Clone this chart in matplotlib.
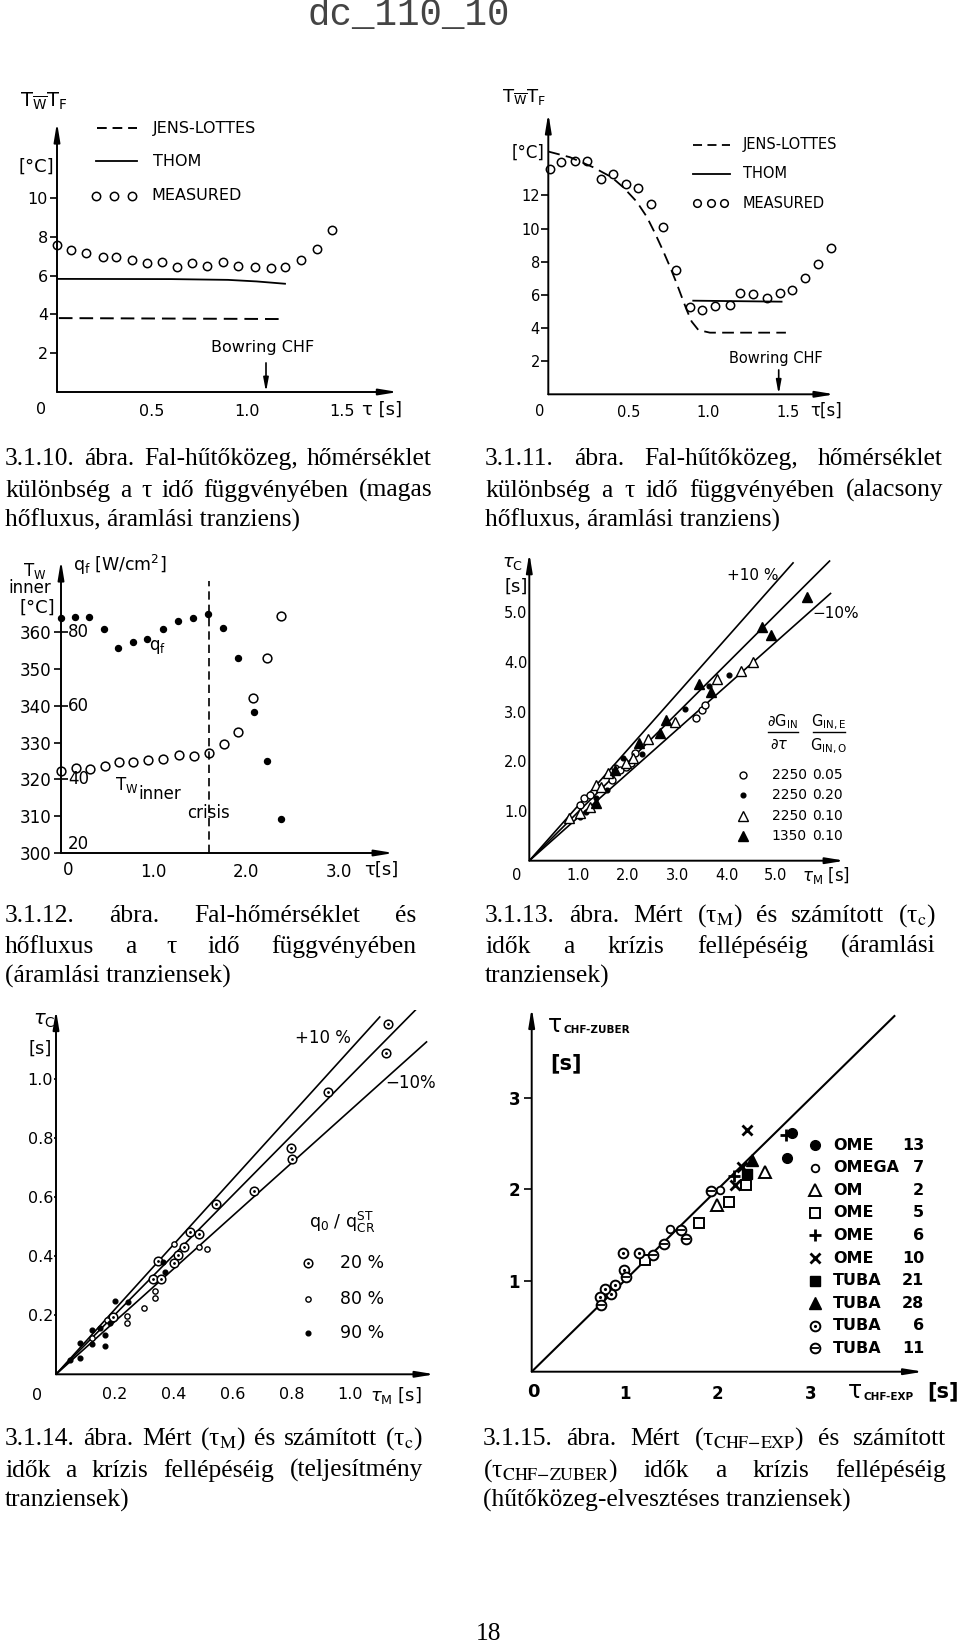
import numpy as np
import matplotlib
matplotlib.use("Agg")
import matplotlib.pyplot as plt

W, H = 960, 1644
SANS = "DejaVu Sans"
SERIF = "Liberation Serif"
MONO = "Liberation Mono"
plt.rcParams["font.family"] = SANS

# 3.1.10 - high heat flux, flow transient
tau_10 = [0.00, 0.075, 0.154, 0.243, 0.313, 0.396, 0.475, 0.555, 0.632, 0.713,
          0.792, 0.874, 0.953, 1.040, 1.124, 1.200, 1.285, 1.371, 1.447]
meas_10 = [7.56, 7.34, 7.17, 6.94, 6.98, 6.80, 6.67, 6.70, 6.46, 6.65,
           6.48, 6.68, 6.49, 6.44, 6.37, 6.44, 6.82, 7.39, 8.35]
thom_tau_10 = [0.0, 0.6, 0.9, 1.05, 1.2]
thom_10 = [5.83, 5.82, 5.78, 5.70, 5.58]
jens_tau_10 = [0.01, 1.2]
jens_10 = [3.81, 3.76]
bowring_10 = 1.10

# 3.1.11 - low heat flux, flow transient
tau_11 = [0.010, 0.081, 0.167, 0.244, 0.327, 0.406, 0.488, 0.563, 0.642, 0.719, 0.800, 0.883,
          0.963, 1.042, 1.133, 1.198, 1.281, 1.367, 1.446, 1.525, 1.604, 1.683, 1.769]
meas_11 = [13.58, 14.00, 14.10, 14.10, 13.00, 13.30, 12.72, 12.47, 11.46, 10.12, 7.51, 5.27,
           5.09, 5.35, 5.39, 6.11, 6.05, 5.81, 6.10, 6.30, 7.04, 7.85, 8.81]
jens_tau_11 = [0.0, 0.135, 0.281, 0.396, 0.469, 0.552, 0.615, 0.667, 0.715, 0.760, 0.802,
               0.833, 0.865, 0.896, 0.938, 1.010, 1.485]
jens_11 = [14.65, 14.31, 13.70, 13.10, 12.49, 11.63, 10.72, 9.72, 8.71, 7.71, 6.70,
           5.90, 5.09, 4.39, 3.88, 3.72, 3.72]
thom_tau_11 = [0.906, 1.458]
thom_11 = [5.65, 5.59]
bowring_11 = 1.44

# 3.1.12 - wall temperature and heat flux
tau_12_q = [0.0, 0.155, 0.299, 0.468, 0.619, 0.777, 0.932, 1.097, 1.266, 1.424, 1.590, 1.748,
            1.910, 2.083, 2.219, 2.374]
q_12 = [83.8, 84.2, 84.1, 80.8, 75.7, 77.5, 78.3, 80.8, 83.0, 83.9, 85.1, 81.3,
        72.9, 58.4, 44.9, 29.2]
tau_12_T = [0.0, 0.165, 0.313, 0.475, 0.626, 0.780, 0.942, 1.101, 1.270, 1.432, 1.594, 1.763,
            1.910, 2.068, 2.223, 2.374]
Tw_12 = [322.3, 323.0, 322.8, 323.6, 324.8, 324.8, 325.2, 325.7, 326.7, 326.4, 327.2, 329.6,
         332.9, 342.2, 353.0, 364.4]
crisis_12 = 1.594
q_ticks_12 = [80, 60, 40, 20]
q_shift_12 = 280  # q axis drawn on the T axis: T = q + 280

# 3.1.13 - flow transients, measured vs computed
open_c_13 = ([1.03, 1.10, 1.23, 1.43, 1.67, 1.74, 1.84, 1.97, 2.07, 2.14, 3.39, 3.51, 3.56],
             [1.12, 1.26, 1.32, 1.46, 1.62, 1.86, 1.83, 1.89, 1.97, 2.16, 2.87, 3.03, 3.13])
dot_13 = ([1.03, 1.15, 1.36, 1.57, 1.91, 2.28, 3.16, 3.65, 4.05],
          [0.87, 0.97, 1.26, 1.42, 2.06, 2.15, 3.05, 3.52, 3.74])
open_t_13 = ([0.81, 1.03, 1.24, 1.36, 1.45, 1.60, 1.97, 2.11, 2.40, 2.96, 3.81, 4.29, 4.53],
             [0.85, 0.95, 1.09, 1.52, 1.49, 1.76, 1.96, 2.06, 2.44, 2.80, 3.65, 3.81, 3.99])
full_t_13 = ([1.36, 1.74, 2.23, 2.65, 2.77, 3.45, 3.68, 4.71, 4.91, 5.64],
             [1.17, 1.83, 2.36, 2.56, 2.83, 3.56, 3.40, 4.70, 4.54, 5.30])
band_slope_13 = [1.12, 0.99, 0.88]
band_end_13 = [5.35, 6.09, 6.11]
legend_13 = [("2250", "0.05"), ("2250", "0.20"), ("2250", "0.10"), ("1350", "0.10")]

# 3.1.14 - power transients
q20_14 = ([1.127, 1.121, 0.925, 0.797, 0.801, 0.673, 0.542, 0.455, 0.487, 0.435, 0.416, 0.402,
           0.348, 0.331, 0.356, 0.195],
          [1.185, 1.089, 0.957, 0.765, 0.728, 0.621, 0.576, 0.481, 0.474, 0.432, 0.404, 0.378,
           0.384, 0.323, 0.323, 0.195])
q80_14 = ([0.512, 0.487, 0.401, 0.299, 0.336, 0.336, 0.240, 0.240, 0.174, 0.121],
          [0.423, 0.430, 0.440, 0.226, 0.282, 0.257, 0.198, 0.175, 0.184, 0.122])
q90_14 = ([0.082, 0.082, 0.121, 0.121, 0.166, 0.166, 0.200, 0.246, 0.370, 0.149, 0.048, 0.183, 0.365],
          [0.105, 0.056, 0.150, 0.102, 0.133, 0.097, 0.248, 0.246, 0.345, 0.156, 0.049, 0.173, 0.381])
band_slope_14 = [1.10, 1.01, 0.894]
band_end_14 = [1.10, 1.225, 1.259]
legend_14 = ["20 %", "80 %", "90 %"]

# 3.1.15 - loss of coolant transients
names_15 = ["OME", "OMEGA", "OM", "OME", "OME", "OME", "TUBA", "TUBA", "TUBA", "TUBA"]
counts_15 = ["13", "7", "2", "5", "6", "10", "21", "28", "6", "11"]
x_15 = [[2.80, 2.74], [2.02, 1.49], [1.99, 2.51], [2.30, 2.12, 1.80, 1.22], [2.18, 2.73],
        [2.31, 2.26, 2.19], [2.32], [2.37], [0.98, 1.15, 0.99, 0.90, 0.85, 0.79, 0.73],
        [1.93, 1.60, 1.66, 1.42, 1.30, 1.01, 0.75]]
y_15 = [[2.62, 2.34], [1.99, 1.57], [1.83, 2.19], [2.05, 1.86, 1.63, 1.22], [2.15, 2.60],
        [2.65, 2.25, 2.05], [2.17], [2.32], [1.30, 1.30, 1.12, 0.95, 0.85, 0.91, 0.82],
        [1.98, 1.55, 1.46, 1.40, 1.28, 1.04, 0.73]]
diag_end_15 = 3.9

captions = [
    (5, 432, [465, 497, 527], ["3.1.10. ábra. Fal-hűtőközeg, hőmérséklet",
                               "különbség a τ idő függvényében (magas",
                               "hőfluxus, áramlási tranziens)"]),
    (485, 943, [465, 497, 527], ["3.1.11. ábra. Fal-hűtőközeg, hőmérséklet",
                                 "különbség a τ idő függvényében (alacsony",
                                 "hőfluxus, áramlási tranziens)"]),
    (5, 416, [922, 953, 983], ["3.1.12. ábra. Fal-hőmérséklet és",
                               "hőfluxus a τ idő függvényében",
                               "(áramlási tranziensek)"]),
    (485, 936, [922, 953, 983], [r"3.1.13. ábra. Mért (τ$_{\mathrm{M}}$) és számított (τ$_{\mathrm{c}}$)",
                                 "idők a krízis fellépéséig (áramlási",
                                 "tranziensek)"]),
    (5, 423, [1445, 1477, 1507], [r"3.1.14. ábra. Mért (τ$_{\mathrm{M}}$) és számított (τ$_{\mathrm{c}}$)",
                                  "idők a krízis fellépéséig (teljesítmény",
                                  "tranziensek)"]),
    (483, 946, [1445, 1477, 1507], [r"3.1.15. ábra. Mért (τ$_{\mathrm{CHF{-}EXP}}$) és számított",
                                    r"(τ$_{\mathrm{CHF{-}ZUBER}}$) idők a krízis fellépéséig",
                                    "(hűtőközeg-elvesztéses tranziensek)"]),
]

fig = plt.figure(figsize=(W / 100, H / 100), dpi=100)
fig.patch.set_facecolor("white")
ov = fig.add_axes([0, 0, 1, 1])
ov.set_xlim(0, W)
ov.set_ylim(H, 0)
ov.axis("off")


def txt(x, y, s, size, ha="center", va="center", weight="normal"):
    return ov.text(x, y, s, fontsize=size, ha=ha, va=va, fontweight=weight,
                   family=SANS, math_fontfamily="dejavusans")


def panel(ox, oy, sx, sy, xmax, ymax, ymin=0.0):
    ax = fig.add_axes([ox / W, (H - oy) / H, xmax * sx / W, (ymax - ymin) * sy / H])
    ax.set_xlim(0, xmax)
    ax.set_ylim(ymin, ymax)
    ax.patch.set_visible(False)
    for sp in ax.spines.values():
        sp.set_visible(False)
    for tip in [(0, 1), (1, 0)]:
        ax.annotate("", xy=tip, xytext=(0, 0), xycoords="axes fraction",
                    arrowprops=dict(arrowstyle="-|>,head_length=1.1,head_width=0.18",
                                    color="k", lw=1.4, shrinkA=0, shrinkB=0))
    return ax


def ticks(ax, xt, xl, yt, yl, size, xpad, ylen, ypad, weight="normal"):
    ax.set_xticks(xt, xl)
    ax.set_yticks(yt, yl)
    ax.tick_params(axis="x", length=0, pad=xpad, labelsize=size)
    ax.tick_params(axis="y", length=ylen, width=1.2, pad=ypad, labelsize=size, direction="out")
    for lab in ax.get_xticklabels() + ax.get_yticklabels():
        lab.set_fontweight(weight)


def bowring(ax, x, top, label_y, size):
    ax.annotate("", xy=(x, 0), xytext=(x, top),
                arrowprops=dict(arrowstyle="-|>,head_length=0.8,head_width=0.15",
                                color="k", lw=1.2, shrinkA=0, shrinkB=0))
    ax.text(x - 0.02, label_y, "Bowring CHF", ha="center", va="center", fontsize=size)


# ---------- 3.1.10 ----------
ax1 = panel(57, 392, 190, 19.4, 1.795, 13.9)
ticks(ax1, [0.5, 1.0, 1.5], ["0.5", "1.0", "1.5"], [2, 4, 6, 8, 10],
      ["2", "4", "6", "8", "10"], 11.5, 8.3, 5, 1.4)
ax1.plot(tau_10, meas_10, "o", mfc="none", mec="k", ms=6, mew=1.1, clip_on=False)
ax1.plot(thom_tau_10, thom_10, color="k", lw=1.3)
ax1.plot(jens_tau_10, jens_10, color="k", lw=1.4, dashes=(7, 3.6))
bowring(ax1, bowring_10, 1.5, 2.27, 11.5)
txt(20, 102, r"T$_{\overline{\rm W}}$T$_{\rm F}$", 14, ha="left")
txt(36, 167, "[°C]", 13)
ov.plot([97, 137], [128, 128], color="k", lw=1.4, dashes=(5, 3))
ov.plot([96, 137], [161, 161], color="k", lw=1.3)
ov.plot([96, 114, 132], [196, 196, 196], "o", mfc="none", mec="k", ms=6, mew=1.1)
txt(153, 128, "JENS-LOTTES", 11.5, ha="left")
txt(153, 161, "THOM", 11.5, ha="left")
txt(151, 196, "MEASURED", 11.5, ha="left")
txt(41, 409, "0", 11.5)
txt(382, 410, "τ [s]", 13)

# ---------- 3.1.11 ----------
ax2 = panel(548.3, 394.3, 160, 16.57, 1.79, 16.96)
ticks(ax2, [0.5, 1.0, 1.5], ["0.5", "1.0", "1.5"], [2, 4, 6, 8, 10, 12],
      ["2", "4", "6", "8", "10", "12"], 10.5, 7.6, 4.8, 1.2)
ax2.plot(tau_11, meas_11, "o", mfc="none", mec="k", ms=6, mew=1.1, clip_on=False)
ax2.plot(thom_tau_11, thom_11, color="k", lw=1.3)
ax2.plot(jens_tau_11, jens_11, color="k", lw=1.3, dashes=(6.5, 3.5))
bowring(ax2, bowring_11, 1.47, 2.19, 10.5)
txt(502, 97, r"T$_{\overline{\rm W}}$T$_{\rm F}$", 13, ha="left")
txt(528, 153, "[°C]", 12)
ov.plot([693, 730], [145, 145], color="k", lw=1.3, dashes=(5, 3))
ov.plot([693, 730], [174, 174], color="k", lw=1.3)
ov.plot([697, 711, 724], [203, 203, 203], "o", mfc="none", mec="k", ms=5.5, mew=1.1)
txt(743, 145, "JENS-LOTTES", 10.5, ha="left")
txt(743, 174, "THOM", 10.5, ha="left")
txt(743, 203, "MEASURED", 10.5, ha="left")
txt(540, 411, "0", 10.5)
txt(826, 411, "τ[s]", 12)

# ---------- 3.1.12 ----------
ax3 = panel(61, 853, 92.7, 3.677, 3.59, 379.6, ymin=300)
ticks(ax3, [1.0, 2.0, 3.0], ["1.0", "2.0", "3.0"], list(range(300, 361, 10)),
      [str(v) for v in range(300, 361, 10)], 12, 7.4, 4.8, 1.9)
ax3.yaxis.remove_overlapping_locs = False
ax3.set_yticks([q + q_shift_12 for q in q_ticks_12[:3]], minor=True)
ax3.tick_params(axis="y", which="minor", direction="in", length=4.8, width=1.2)
for q in q_ticks_12:
    ax3.annotate(str(q), xy=(0, q + q_shift_12 + (2.5 if q == 20 else 0)), xytext=(7, 0),
                 textcoords="offset pixels", ha="left", va="center", fontsize=12)
ax3.plot(tau_12_T, Tw_12, "o", mfc="none", mec="k", ms=6.3, mew=1.1, clip_on=False)
ax3.plot(tau_12_q, np.array(q_12) + q_shift_12, "o", color="k", ms=4.3, clip_on=False)
ax3.plot([crisis_12, crisis_12], [300, 374], color="k", lw=1.2, dashes=(5, 3))
ax3.text(1.04, 356.0, r"q$_{\rm f}$", fontsize=12, ha="center", va="center")
ax3.text(0.71, 318.5, r"T$_{\rm W}$", fontsize=12, ha="center", va="center")
ax3.text(1.06, 316.0, "inner", fontsize=12, ha="center", va="center")
ax3.text(crisis_12, 310.9, "crisis", fontsize=12, ha="center", va="center")
txt(35, 571, r"T$_{\rm W}$", 12)
txt(73, 565, r"q$_{\rm f}$ [W/cm$^{2}$]", 12.5, ha="left")
txt(30, 588, "inner", 12)
txt(37, 608, "[°C]", 13)
txt(68, 870, "0", 12)
txt(381, 870, "τ[s]", 13)

# ---------- 3.1.13 ----------
ax4 = panel(529.3, 860.7, 49.3, 49.7, 6.4, 6.19)
ticks(ax4, [1, 2, 3, 4, 5], ["1.0", "2.0", "3.0", "4.0", "5.0"], [1, 2, 3, 4, 5],
      ["1.0", "2.0", "3.0", "4.0", "5.0"], 10.5, 4.9, 0, 1.2)
for k, e in zip(band_slope_13, band_end_13):
    ax4.plot([0, e], [0, k * e], color="k", lw=1.2)
ax4.plot(*open_c_13, "o", mfc="white", mec="k", ms=5, mew=1.0)
ax4.plot(*dot_13, "o", color="k", ms=3.4)
ax4.plot(*open_t_13, "^", mfc="white", mec="k", ms=7, mew=1.0)
ax4.plot(*full_t_13, "^", color="k", ms=7)
txt(513, 563, r"$\tau_{\rm C}$", 13)
txt(516, 587, "[s]", 13)
txt(517, 875, "0", 10.5)
txt(826, 875, r"$\tau_{\rm M}$ [s]", 12)
txt(753, 575, "+10 %", 11)
txt(836, 613, "−10%", 11)
txt(782, 722, r"$\partial$G$_{\rm IN}$", 10.5)
ov.plot([768, 798], [732, 732], color="k", lw=1.0)
txt(779, 744, r"$\partial\tau$", 10.5)
txt(829, 722, r"G$_{\rm IN,E}$", 10.5)
ov.plot([813, 845], [732, 732], color="k", lw=1.0)
txt(829, 746, r"G$_{\rm IN,O}$", 10.5)
rows_13 = [775, 795, 816, 836]
ov.plot([743], [rows_13[0]], "o", mfc="white", mec="k", ms=5, mew=1.0)
ov.plot([743], [rows_13[1]], "o", color="k", ms=3.4)
ov.plot([743], [rows_13[2]], "^", mfc="white", mec="k", ms=7, mew=1.0)
ov.plot([743], [rows_13[3]], "^", color="k", ms=7)
for yy, (g, r) in zip(rows_13, legend_13):
    txt(807, yy, g, 10, ha="right")
    txt(843, yy, r, 10, ha="right")

# ---------- 3.1.14 ----------
ax5 = panel(56, 1374.3, 294.3, 295.3, 1.287, 1.234)
ticks(ax5, [0.2, 0.4, 0.6, 0.8, 1.0], ["0.2", "0.4", "0.6", "0.8", "1.0"],
      [0.2, 0.4, 0.6, 0.8, 1.0], ["0.2", "0.4", "0.6", "0.8", "1.0"], 11.5, 8.9, 1.5, 0.5)
for k, e in zip(band_slope_14, band_end_14):
    ax5.plot([0, e], [0, k * e], color="k", lw=1.2)
ax5.plot(*q20_14, "o", mfc="white", mec="k", ms=6.2, mew=1.1)
ax5.plot(*q20_14, ".", color="k", ms=2)
ax5.plot(*q80_14, "o", mfc="white", mec="k", ms=3.8, mew=1.0)
ax5.plot(*q90_14, "o", color="k", ms=3.4)
txt(44, 1020, r"$\tau_{\rm C}$", 14)
txt(40, 1049, "[s]", 13)
txt(37, 1395, "0", 11.5)
txt(396, 1395, r"$\tau_{\rm M}$ [s]", 13)
txt(323, 1038, "+10 %", 12)
txt(411, 1083, "−10%", 12)
txt(342, 1222, r"q$_0$ / q$^{\rm ST}_{\rm CR}$", 12.5)
rows_14 = [1263, 1299, 1333]
ov.plot([308], [rows_14[0]], "o", mfc="white", mec="k", ms=6.2, mew=1.1)
ov.plot([308], [rows_14[0]], ".", color="k", ms=2)
ov.plot([308], [rows_14[1]], "o", mfc="white", mec="k", ms=3.8, mew=1.0)
ov.plot([308], [rows_14[2]], "o", color="k", ms=3.4)
for yy, lab in zip(rows_14, legend_14):
    txt(362, yy, lab, 12.5)

# ---------- 3.1.15 ----------
ax6 = panel(531.7, 1371.7, 93, 91.2, 4.21, 3.99)
ticks(ax6, [1, 2, 3], ["1", "2", "3"], [1, 2, 3], ["1", "2", "3"], 12, 9.6, 5.5, 2.9, "bold")
ax6.plot([0, diag_end_15], [0, diag_end_15], color="k", lw=1.5)
styles_15 = [
    dict(marker="o", color="k", ms=7),
    dict(marker="o", mfc="white", mec="k", ms=5.5, mew=1.3),
    dict(marker="^", mfc="white", mec="k", ms=8, mew=1.4),
    dict(marker="s", mfc="white", mec="k", ms=6.5, mew=1.4),
    dict(marker="+", color="k", ms=9, mew=2.0),
    dict(marker="x", color="k", ms=7, mew=2.0),
    dict(marker="s", color="k", ms=6.5),
    dict(marker="^", color="k", ms=8),
    dict(marker="o", mfc="white", mec="k", ms=7, mew=1.4),
    dict(marker="o", mfc="white", mec="k", ms=7, mew=1.4),
]
inner_15 = {8: dict(marker=".", color="k", ms=2.5), 9: dict(marker="_", color="k", ms=6, mew=1.3)}
rows_15 = [1145 + 22.6 * i for i in range(len(names_15))]
for i, (xs, ys, st) in enumerate(zip(x_15, y_15, styles_15)):
    ax6.plot(xs, ys, ls="none", **st)
    ov.plot([815], [rows_15[i]], ls="none", **st)
    if i in inner_15:
        ax6.plot(xs, ys, ls="none", **inner_15[i])
        ov.plot([815], [rows_15[i]], ls="none", **inner_15[i])
    txt(833, rows_15[i], names_15[i], 11.5, ha="left", weight="bold")
    txt(924, rows_15[i], counts_15[i], 11.5, ha="right", weight="bold")
txt(555, 1025, "τ", 17)
txt(563, 1030, "CHF-ZUBER", 7.5, ha="left", weight="bold")
txt(566, 1063, "[s]", 15, weight="bold")
txt(533, 1392, "0", 13, weight="bold")
txt(855, 1391, "τ", 17)
txt(863, 1397, "CHF-EXP", 7.5, ha="left", weight="bold")
txt(943, 1391, "[s]", 15, weight="bold")

# ---------- page text ----------
ov.text(409, 15, "dc_110_10", family=MONO, fontsize=27, ha="center", va="center", color="#444444")

renderer = fig.canvas.get_renderer()
probe = ov.text(0, 0, "hőfluxus, áramlási tranziens)", fontsize=20, family=SERIF)
cap_fs = 20 * 295 / probe.get_window_extent(renderer).width
probe.remove()


def serif(x, y, s, ha="left"):
    return ov.text(x, y, s, fontsize=cap_fs, family=SERIF, math_fontfamily="stix",
                   ha=ha, va="baseline")


for x0, x1, ys, lines in captions:
    for j, (line, yb) in enumerate(zip(lines, ys)):
        if j == len(lines) - 1:
            serif(x0, yb, line)
            continue
        words = [serif(0, yb, w) for w in line.split(" ")]
        widths = [w.get_window_extent(renderer).width for w in words]
        gap = (x1 - x0 - sum(widths)) / (len(words) - 1)
        xx = x0
        for w, wd in zip(words, widths):
            w.set_x(xx)
            xx += wd + gap

serif(489, 1640, "18", ha="center")

fig.savefig("out.png", dpi=100, facecolor="white")
